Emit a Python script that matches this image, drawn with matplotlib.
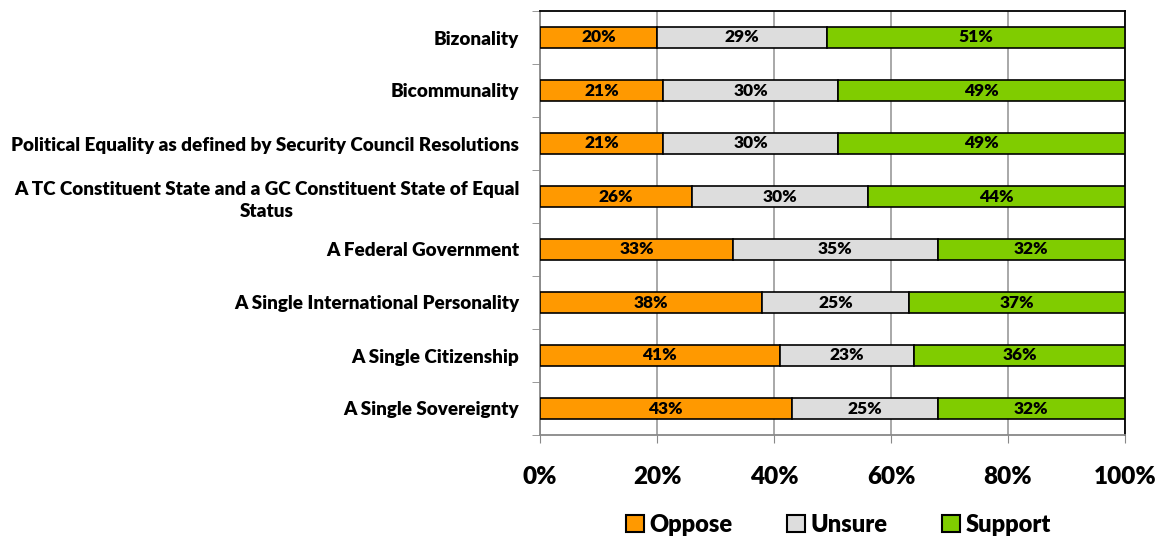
import matplotlib.pyplot as plt
import numpy as np

plt.rcParams['font.family'] = ['Lato', 'DejaVu Sans']
plt.rcParams['font.weight'] = 'heavy'

# Data
categories = ['Bizonality', 'Bicommunality',
              'Political Equality as defined by Security Council Resolutions',
              'A TC Constituent State and a GC Constituent State of Equal\nStatus',
              'A Federal Government', 'A Single International Personality',
              'A Single Citizenship', 'A Single Sovereignty']
oppose = [20, 21, 21, 26, 33, 38, 41, 43]
unsure = [29, 30, 30, 30, 35, 25, 23, 25]
support = [51, 49, 49, 44, 32, 37, 36, 32]
series_names = ['Oppose', 'Unsure', 'Support']
colors = ['#FF9900', '#DDDDDD', '#80CC00']

fig = plt.figure(figsize=(11.59, 5.41), dpi=100)
ax = fig.add_axes([540 / 1159, 1 - 435 / 541, 585 / 1159, 424 / 541])

y = np.arange(len(categories))
left = np.zeros(len(categories))
for vals, name, c in zip([oppose, unsure, support], series_names, colors):
    vals = np.array(vals, dtype=float)
    ax.barh(y, vals, left=left, height=0.4, color=c, edgecolor='black',
            linewidth=1.2, label=name, zorder=3)
    for yi, l, v in zip(y, left, vals):
        ax.text(l + v / 2, yi, f'{v:.0f}%', ha='center', va='center',
                fontsize=12.5, fontweight='heavy', zorder=4)
    left += vals

ax.set_xlim(0, 100)
ax.set_ylim(len(categories) - 0.5, -0.5)
ax.set_xticks([0, 20, 40, 60, 80, 100])
ax.set_xticklabels(['0%', '20%', '40%', '60%', '80%', '100%'], fontsize=17.5, fontweight='heavy')
ax.tick_params(axis='x', length=6, color='#888888', pad=16)
ax.set_yticks(y)
ax.set_yticklabels(categories, fontsize=13.6, fontweight='heavy', ha='right',
                   multialignment='center', linespacing=1.35)
ax.tick_params(axis='y', length=0, pad=15)
ax.set_yticks(np.arange(-0.5, len(categories), 1), minor=True)
ax.tick_params(axis='y', which='minor', length=6, color='#888888')
ax.grid(axis='x', color='#999999', linewidth=1.2, zorder=0)

ax.spines['left'].set_color('#888888')
ax.spines['bottom'].set_color('#888888')
ax.spines['top'].set_color('black')
ax.spines['right'].set_color('black')
for s in ax.spines.values():
    s.set_linewidth(1.3)

leg = fig.legend(loc='center', bbox_to_anchor=(0.7235, 1 - 525 / 541), ncol=3, frameon=False,
                 prop={'size': 17, 'weight': 'heavy'}, handlelength=0.75, handleheight=0.75,
                 handletextpad=0.25, columnspacing=2.3)
for h in leg.legend_handles:
    h.set_linewidth(1.5)

plt.savefig('out.png', dpi=100)
